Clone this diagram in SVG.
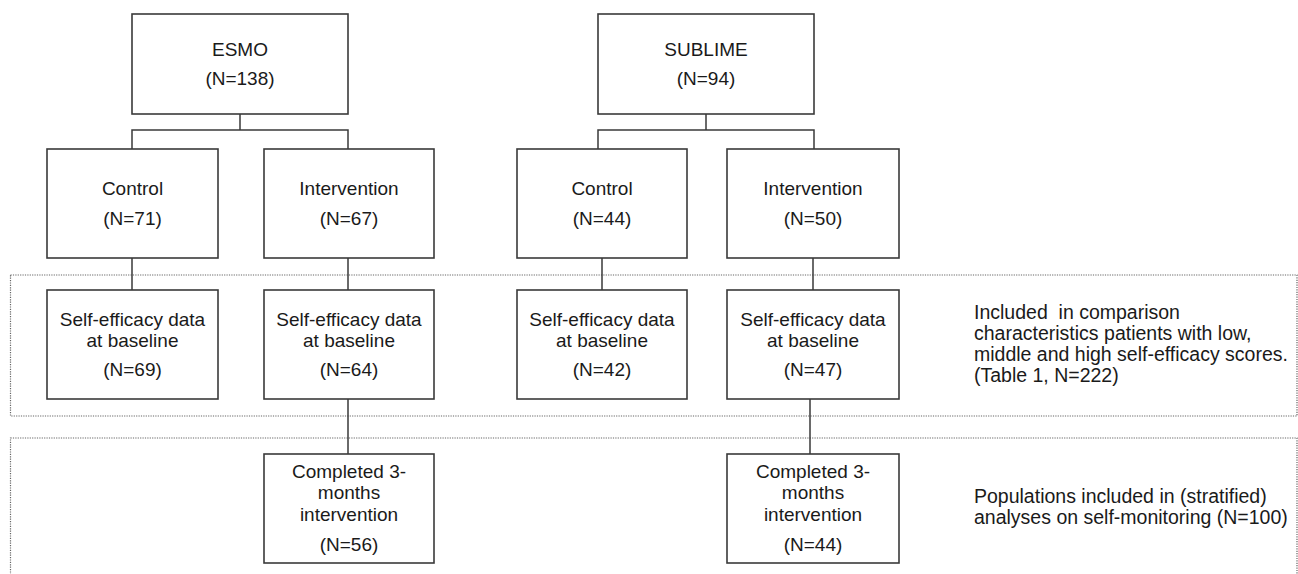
<svg xmlns="http://www.w3.org/2000/svg" width="1298" height="574" viewBox="0 0 1298 574">
<style>
.box{fill:#fff;stroke:#3a3a3a;stroke-width:1.6}
.t{font-family:"Liberation Sans",Arial,sans-serif;font-size:19px;fill:#1a1a1a;text-anchor:middle}
.n{font-family:"Liberation Sans",Arial,sans-serif;font-size:19.5px;fill:#1a1a1a;white-space:pre}
.c{fill:none;stroke:#3a3a3a;stroke-width:1.5}
.d{fill:none;stroke:#666;stroke-width:1.2;stroke-dasharray:1.2 1.2}
</style>
<rect width="1298" height="574" fill="#fff"/>
<g id="regions">
<rect class="d" x="10.5" y="275" width="1286.5" height="141"/>
<rect class="d" x="10.5" y="438" width="1286.5" height="150"/>
</g>
<g id="connectors">
<path class="c" d="M240 114V130M132 149V130H348V149"/>
<path class="c" d="M706 114V130M598 149V130H814V149"/>
<path class="c" d="M132 258V290M348 258V290M602 258V290M813 258V290"/>
<path class="c" d="M348 399V454M810 399V454"/>
</g>
<g id="esmo"><rect class="box" x="132" y="14" width="216" height="100"/><text class="t" x="240" y="56">ESMO</text><text class="t" x="240" y="85">(N=138)</text></g>
<g id="sublime"><rect class="box" x="598" y="14" width="216" height="100"/><text class="t" x="706" y="56">SUBLIME</text><text class="t" x="706" y="85">(N=94)</text></g>
<g id="esmo-control"><rect class="box" x="47" y="149" width="171" height="109"/><text class="t" x="132.5" y="195">Control</text><text class="t" x="132.5" y="225">(N=71)</text></g>
<g id="esmo-intervention"><rect class="box" x="264" y="149" width="170" height="109"/><text class="t" x="349" y="195">Intervention</text><text class="t" x="349" y="225">(N=67)</text></g>
<g id="sublime-control"><rect class="box" x="517" y="149" width="170" height="109"/><text class="t" x="602" y="195">Control</text><text class="t" x="602" y="225">(N=44)</text></g>
<g id="sublime-intervention"><rect class="box" x="727" y="149" width="172" height="109"/><text class="t" x="813" y="195">Intervention</text><text class="t" x="813" y="225">(N=50)</text></g>
<g id="esmo-control-se"><rect class="box" x="47" y="290" width="171" height="109"/><text class="t" x="132.5" y="326">Self-efficacy data</text><text class="t" x="132.5" y="347">at baseline</text><text class="t" x="132.5" y="376">(N=69)</text></g>
<g id="esmo-intervention-se"><rect class="box" x="264" y="290" width="170" height="109"/><text class="t" x="349" y="326">Self-efficacy data</text><text class="t" x="349" y="347">at baseline</text><text class="t" x="349" y="376">(N=64)</text></g>
<g id="sublime-control-se"><rect class="box" x="517" y="290" width="170" height="109"/><text class="t" x="602" y="326">Self-efficacy data</text><text class="t" x="602" y="347">at baseline</text><text class="t" x="602" y="376">(N=42)</text></g>
<g id="sublime-intervention-se"><rect class="box" x="727" y="290" width="172" height="109"/><text class="t" x="813" y="326">Self-efficacy data</text><text class="t" x="813" y="347">at baseline</text><text class="t" x="813" y="376">(N=47)</text></g>
<g id="esmo-completed"><rect class="box" x="264" y="454" width="170" height="109"/><text class="t" x="349" y="478">Completed 3-</text><text class="t" x="349" y="499">months</text><text class="t" x="349" y="521">intervention</text><text class="t" x="349" y="551">(N=56)</text></g>
<g id="sublime-completed"><rect class="box" x="727" y="454" width="172" height="109"/><text class="t" x="813" y="478">Completed 3-</text><text class="t" x="813" y="499">months</text><text class="t" x="813" y="521">intervention</text><text class="t" x="813" y="551">(N=44)</text></g>
<g id="note-comparison"><text class="n" x="974" y="319">Included  in comparison</text><text class="n" x="974" y="340">characteristics patients with low,</text><text class="n" x="974" y="361">middle and high self-efficacy scores.</text><text class="n" x="974" y="382">(Table 1, N=222)</text></g>
<g id="note-populations"><text class="n" x="974" y="503">Populations included in (stratified)</text><text class="n" x="974" y="524">analyses on self-monitoring (N=100)</text></g>
</svg>
